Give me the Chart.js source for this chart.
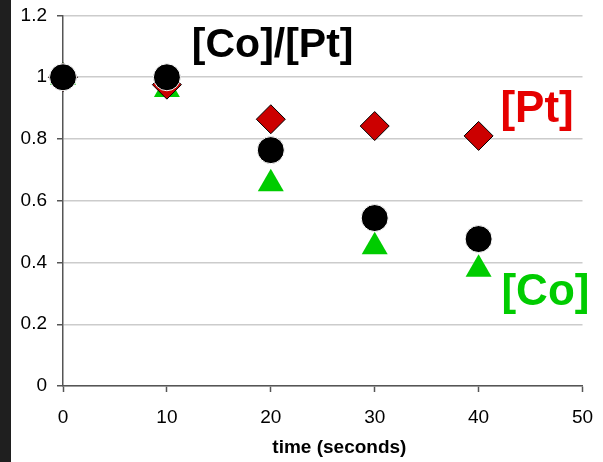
<!DOCTYPE html>
<html>
<head>
<meta charset="utf-8">
<script src="https://cdn.jsdelivr.net/npm/chart.js@4/dist/chart.umd.min.js"></script>
<style>
  html, body { margin: 0; padding: 0; background: #ffffff; }
  #wrap { position: relative; width: 603px; height: 462px; background: #ffffff; }
  #strip { position: absolute; left: 0; top: 0; width: 11px; height: 462px;
    background: #1f1f1f; }
  canvas { position: absolute; left: 0; top: 0; }
</style>
</head>
<body>
<div id="wrap">
  <div id="strip"></div>
  <canvas id="c" width="603" height="462"></canvas>
</div>
<script>
// ---- data ----
const timeSeconds = [0, 10, 20, 30, 40];
const ratioCoPt   = [1.0, 1.0, 0.764, 0.544, 0.476];
const ptValues    = [1.0, 0.976, 0.864, 0.842, 0.81];
const coValues    = [1.0, 0.96, 0.655, 0.451, 0.378];
const yTicks = [0, 0.2, 0.4, 0.6, 0.8, 1.0, 1.2];
const xTicks = [0, 10, 20, 30, 40, 50];
const labels = [
  { text: '[Co]/[Pt]', x: 12.4, y: 1.066, color: '#000000', size: 41 },
  { text: '[Pt]',      x: 42.1, y: 0.854, color: '#e60000', size: 44 },
  { text: '[Co]',      x: 42.2, y: 0.262, color: '#00cc00', size: 44 }
];
const xTitle = 'time (seconds)';

const pts = arr => timeSeconds.map((t, i) => ({ x: t, y: arr[i] }));

const FONT = "'Liberation Sans', Arial, sans-serif";

const labelPlugin = {
  id: 'seriesLabels',
  afterDraw(chart) {
    const ctx = chart.ctx;
    const xs = chart.scales.x, ys = chart.scales.y;
    ctx.save();
    ctx.textAlign = 'left';
    ctx.textBaseline = 'alphabetic';
    labels.forEach(l => {
      ctx.font = 'bold ' + l.size + 'px ' + FONT;
      ctx.fillStyle = l.color;
      ctx.fillText(l.text, xs.getPixelForValue(l.x), ys.getPixelForValue(l.y));
    });
    // axis title, centred a little right of the plot centre as in the reference
    ctx.font = 'bold 19px ' + FONT;
    ctx.fillStyle = '#000000';
    ctx.textAlign = 'center';
    ctx.textBaseline = 'middle';
    ctx.fillText(xTitle, xs.getPixelForValue(26.6), xs.bottom - 14);
    ctx.restore();
  }
};

const noPad = s => { s.paddingTop = 0; s.paddingBottom = 0; s.paddingLeft = 0; s.paddingRight = 0; };

new Chart(document.getElementById('c'), {
  type: 'scatter',
  data: {
    datasets: [
      { label: '[Co]/[Pt]', data: pts(ratioCoPt), pointStyle: 'circle', pointRadius: 13.5,
        backgroundColor: '#000000', borderColor: '#ffffff', borderWidth: 1, clip: false },
      { label: '[Pt]', data: pts(ptValues), pointStyle: 'rectRot', pointRadius: 14.5,
        backgroundColor: '#cc0000', borderColor: '#000000', borderWidth: 1, clip: false },
      { label: '[Co]', data: pts(coValues), pointStyle: 'triangle', pointRadius: 15,
        backgroundColor: '#00cc00', borderColor: '#00cc00', borderWidth: 0, clip: false }
    ]
  },
  options: {
    responsive: false,
    animation: false,
    events: [],
    layout: { padding: { top: 15, right: 20.5, left: 0, bottom: 0 } },
    plugins: { legend: { display: false }, tooltip: { enabled: false } },
    scales: {
      x: {
        type: 'linear', min: 0, max: 50,
        afterBuildTicks: s => { s.ticks = xTicks.map(v => ({ value: v })); },
        afterFit: s => { s.height = 76; noPad(s); },
        grid: { drawOnChartArea: false, drawTicks: true, tickLength: 6, tickColor: '#555555', tickWidth: 1.5 },
        border: { color: '#555555', width: 1.5 },
        ticks: { color: '#000000', font: { family: FONT, size: 19 }, padding: 14, maxRotation: 0 },
        title: { display: false }
      },
      y: {
        type: 'linear', min: 0, max: 1.2,
        afterBuildTicks: s => { s.ticks = yTicks.map(v => ({ value: v })); },
        afterFit: s => { s.width = 63; noPad(s); },
        grid: { color: '#cccccc', lineWidth: 1.5, drawTicks: true, tickLength: 6, tickColor: '#555555', tickWidth: 1.5 },
        border: { color: '#555555', width: 1.5 },
        ticks: { color: '#000000', font: { family: FONT, size: 19 }, padding: 10,
                 callback: v => String(Math.round(v * 10) / 10) }
      }
    }
  },
  plugins: [labelPlugin]
});
</script>
</body>
</html>
